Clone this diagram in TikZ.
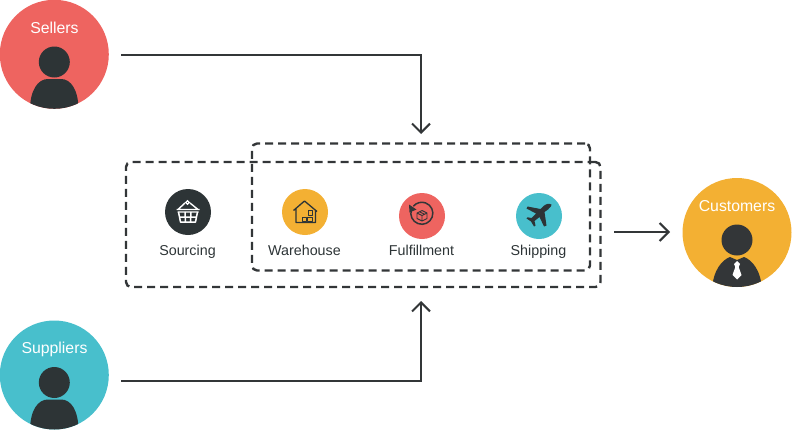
\documentclass[tikz,border=0pt]{standalone}
\usepackage{fontspec}
\setmainfont{Liberation Sans}
\usetikzlibrary{arrows.meta}
\definecolor{redc}{HTML}{EE6460}
\definecolor{yelc}{HTML}{F3B033}
\definecolor{teal2}{HTML}{48BFCC}
\definecolor{darkc}{HTML}{2D3436}
\definecolor{linec}{HTML}{333638}
\tikzset{
  x=1pt,y=-1pt,
  bigdisc/.style={circle,inner sep=0pt,minimum size=109pt,fill=#1},
  smalldisc/.style={circle,inner sep=0pt,minimum size=46pt,fill=#1},
  biglabel/.style={text=white,font=\fontsize{15.8}{18}\selectfont,inner sep=0pt,anchor=base},
  steplabel/.style={text=darkc,font=\fontsize{14.3}{17}\selectfont,inner sep=0pt,anchor=base},
  dashbox/.style={draw=linec,line width=2.4pt,dash pattern=on 8pt off 5pt,rounded corners=5pt,outer sep=0pt,inner sep=0pt,anchor=north west},
  flow/.style={draw=linec,line width=2pt,-{Straight Barb[length=9pt,width=18pt,line width=2pt]}},
  iconline/.style={draw=darkc,line width=1.3pt,line join=round},
}
\begin{document}
\begin{tikzpicture}
\useasboundingbox (0,0) rectangle (793,434);
% actors
\node[bigdisc=redc] (sellers) at (54.3,54.3) {};
\node[bigdisc=teal2] (suppliers) at (54.3,375) {};
\node[bigdisc=yelc] (customers) at (737,232.5) {};
\node[biglabel] (sellerslabel) at (54.5,33) {Sellers};
\node[biglabel] (supplierslabel) at (54.5,353) {Suppliers};
\node[biglabel] (customerslabel) at (737,211) {Customers};
% persons
\begin{scope}
\clip (54.3,54.3) circle[radius=54.5];
\fill[darkc] (54.3,62) circle[radius=15.5];
\fill[darkc] (30,110) .. controls (30,90) and (38,79) .. (48,79) -- (61,79) .. controls (71,79) and (78.5,90) .. (78.5,110) -- cycle;
\end{scope}
\begin{scope}
\clip (54.3,375) circle[radius=54.5];
\fill[darkc] (54.3,382.5) circle[radius=15.5];
\fill[darkc] (30,431) .. controls (30,410) and (38,399.5) .. (48,399.5) -- (61,399.5) .. controls (71,399.5) and (78.5,410) .. (78.5,431) -- cycle;
\end{scope}
\begin{scope}
\clip (737,232.5) circle[radius=54.5];
\fill[linec] (737,240) circle[radius=15.5];
\fill[linec] (712,290) .. controls (713,270) and (722,260) .. (730,257) -- (737,260) -- (744,257) .. controls (752,260) and (761,270) .. (762,290) -- cycle;
\fill[white] (737,261) -- (740,264) -- (738.7,267) -- (741.5,275) -- (737,279.5) -- (732.5,275) -- (735.3,267) -- (734,264) -- cycle;
\end{scope}
% step discs
\node[smalldisc=darkc] (sourcing) at (188,212) {};
\node[smalldisc=yelc] (warehouse) at (305,212) {};
\node[smalldisc=redc] (fulfillment) at (422,216) {};
\node[smalldisc=teal2] (shipping) at (539,216) {};
\node[steplabel] (sourcinglabel) at (187.5,255) {Sourcing};
\node[steplabel] (warehouselabel) at (304.5,255) {Warehouse};
\node[steplabel] (fulfillmentlabel) at (421.5,255) {Fulfillment};
\node[steplabel] (shippinglabel) at (538.5,255) {Shipping};
% basket
\draw[white,line width=1.4pt,line join=round] (176.5,209.5) -- (199.5,209.5) (177.5,212) -- (198.5,212) (178,209.5) -- (185,203) (198,209.5) -- (190,203);
\draw[white,line width=1.2pt] (187.5,202.5) circle[radius=1.8];
\draw[white,line width=1.5pt,line join=round] (178.5,212) -- (180.5,222) -- (195.5,222) -- (197.5,212) (179.5,217) -- (196.5,217) (185,212) -- (185.5,222) (191,212) -- (190.5,222);
% house
\draw[iconline] (293.5,210.5) -- (304.5,201) -- (317,211.5) (296,209) -- (296,222.5) -- (315.5,222.5) -- (315.5,210);
\draw[iconline,line width=1pt] (302,217.5) rectangle (306.5,221.5) (307.5,217) rectangle (312.5,221.5) (308,210.5) rectangle (312.5,215);
% fulfillment
\draw[draw=linec,line width=1.5pt] (411.5,209.5) arc[start angle=200,end angle=-140,radius=11];
\fill[linec] (409,204.5) -- (416.5,209.5) -- (409.5,212.5) -- cycle;
\draw[draw=linec,line width=0.9pt,line join=round] (422,210.5) -- (427,213) -- (427,218.5) -- (422,221) -- (417,218.5) -- (417,213) -- cycle (417,213) -- (422,215.5) -- (427,213) (422,215.5) -- (422,221) (419.5,211.8) -- (424.5,214.2);
% plane
\fill[darkc] (551.5,204.5) .. controls (549,203) and (545.5,204) .. (543,206.5) -- (540.5,209) -- (527.5,206.5) -- (526.5,208.5) -- (536,213.5) -- (531.5,218) -- (527.5,217.3) -- (526.5,218.5) -- (531,221.5) -- (534,226.5) -- (535.5,225.5) -- (534.5,221) -- (539.5,217) -- (544,226.5) -- (546.5,225.5) -- (544.5,212) -- (548,209.5) .. controls (550.5,207) and (552,205.5) .. (551.5,204.5) -- cycle;
% dashed boxes
\node[dashbox,minimum width=474.5pt,minimum height=125pt] (outerbox) at (126,162) {};
\node[dashbox,minimum width=338pt,minimum height=127pt] (innerbox) at (252,143.5) {};
% connectors
\coordinate (a1) at (121,54.5);
\coordinate (a2) at (421,134);
\coordinate (b1) at (121,380.5);
\coordinate (b2) at (421,301);
\coordinate (c1) at (614,232);
\coordinate (c2) at (670,232);
\draw[flow] (a1) -| (a2);
\draw[flow] (b1) -| (b2);
\draw[flow] (c1) -- (c2);
\end{tikzpicture}
\end{document}
